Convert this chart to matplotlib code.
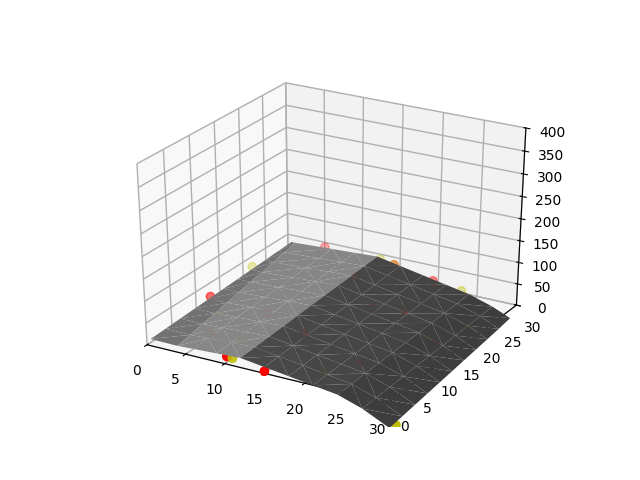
import numpy as np
import matplotlib
matplotlib.use('Agg')
import matplotlib.pyplot as plt

# surface mesh, one entry per y grid row
y_grid = [0, 3, 6, 9, 12, 15, 18, 21, 24, 27, 30]
left_x = [0.5] * 11
fold_x = [4, 3.7, 3.4, 3.1, 2.8, 2.5, 2.2, 1.9, 1.6, 1.3, 1]
mid_x = [6, 9, 12, 15, 18, 21, 24, 27]
right_x = [30.3, 30.2, 30.1, 30, 29.9, 29.8, 29.7, 29.6, 29.5, 29.4, 29.3]
z_rows = [
    [15.5, 14.8, 16.6, 19.3, 22, 14.5, 7, -0.5, -8, -26, -55],
    [17.2, 16.6, 18.7, 21.4, 24.1, 16.3, 8.5, 0.7, -7.1, -25, -53],
    [19.1, 18.5, 20.8, 23.5, 26.2, 18.1, 10, 1.9, -6.2, -24, -51],
    [20.8, 20.3, 22.9, 25.6, 28.3, 19.9, 11.5, 3.1, -5.3, -23, -49],
    [22.6, 22.1, 25, 27.7, 30.4, 21.7, 13, 4.3, -4.4, -22, -47],
    [24.4, 24, 27.1, 29.8, 32.5, 23.5, 14.5, 5.5, -3.5, -21, -45],
    [26.2, 25.8, 29.2, 31.9, 34.6, 25.3, 16, 6.7, -2.6, -20, -43],
    [27.9, 27.6, 31.3, 34, 36.7, 27.1, 17.5, 7.9, -1.7, -19, -41],
    [29.6, 29.4, 33.4, 36.1, 38.8, 28.9, 19, 9.1, -0.8, -18, -39],
    [31.5, 31.3, 35.5, 38.2, 40.9, 30.7, 20.5, 10.3, 0.1, -17, -37],
    [33.2, 33.1, 37.6, 40.3, 43, 32.5, 22, 11.5, 1, -16, -34],
]

# scatter points
red_x = [0, 5, 10.3, 15, 19.3, 8, 17, 22, 5, 12, 26, 14, 20, 14.2]
red_y = [13, 30, 0, 0, 30, 12, 20, 8, 5, 25, 18, 10, 22, 30]
red_z = [18, 38, 18, 5, 14, 20, 12, -5, 12, 30, -22, 12, 5, 32]
yel_x = [0, 12.4, 14.2, 11, 23, 30.8, 18, 25, 6, 3, 9, 20, 27]
yel_y = [22, 30, 30, 0, 30, 0.5, 14, 18, 20, 10, 5, 4, 24]
yel_z = [26, 38, 32, 17, 5, -50, 8, -12, 28, 12, 16, -3, -20]

X = np.array([[l, f] + mid_x + [r] for l, f, r in zip(left_x, fold_x, right_x)])
Y = np.tile(y_grid, (X.shape[1], 1)).T
Z = np.array(z_rows)

fig = plt.figure()
ax = fig.add_subplot(projection='3d', computed_zorder=False)
ax.scatter(red_x, red_y, red_z, c='r', s=36, zorder=1)
ax.scatter(yel_x, yel_y, yel_z, c='y', s=36, zorder=1)
ax.plot_trisurf(X.ravel(), Y.ravel(), Z.ravel(), color='0.54', linewidth=0, zorder=2)
ax.set_xlim(0, 30)
ax.set_ylim(0, 30)
ax.set_zlim(0, 400)
# unit cube stretched over the whole axes box
ax.set_box_aspect((1, 1, 1), zoom=0.94)
ax.apply_aspect = lambda position=None: None
for axis in (ax.xaxis, ax.yaxis, ax.zaxis):
    axis._axinfo['grid']['linewidth'] = 1.0
    axis._axinfo['grid']['color'] = '#b0b0b0'
fig.savefig('out.png', dpi=100)
